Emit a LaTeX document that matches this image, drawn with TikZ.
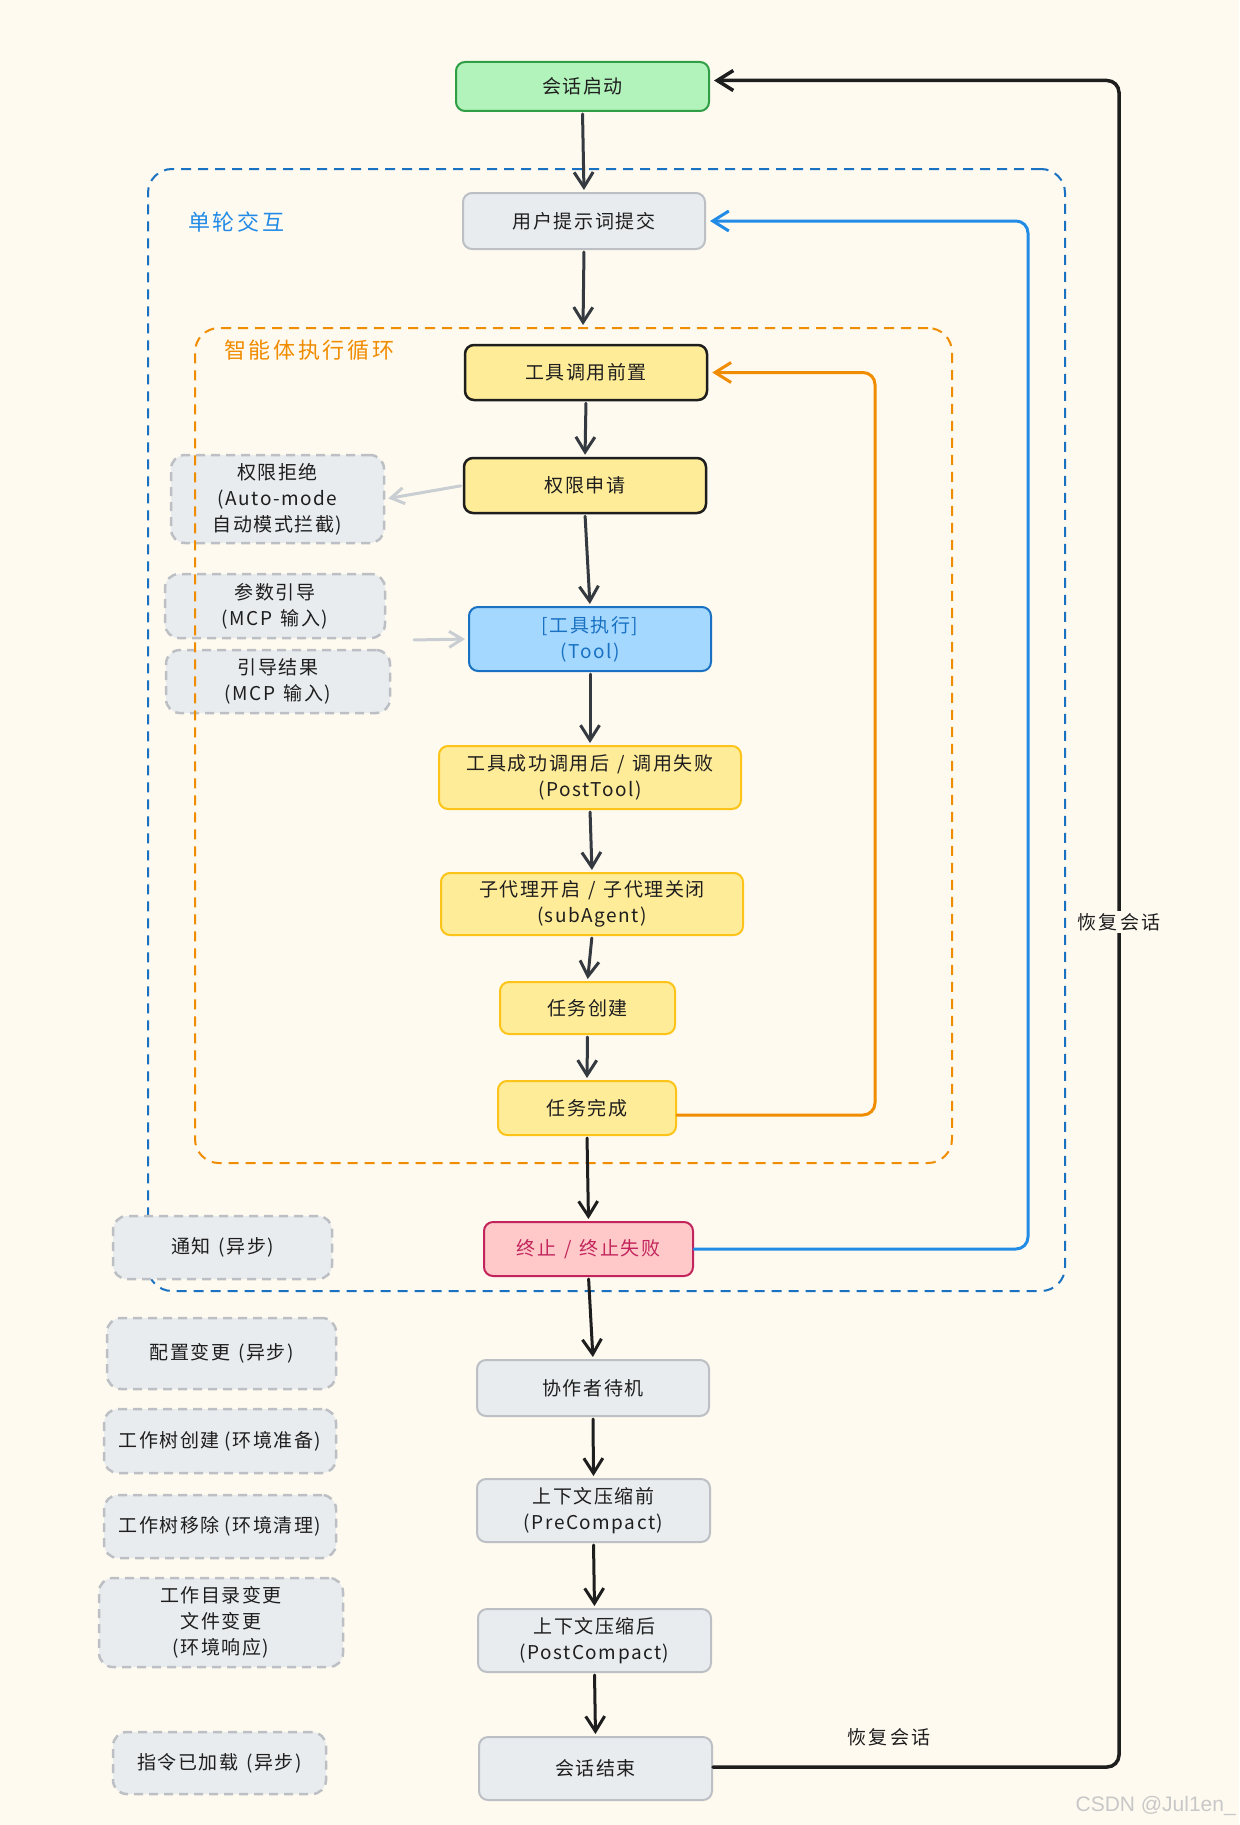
\documentclass[tikz,border=0pt]{standalone}
\usepackage{fontspec}
\setmainfont{Noto Sans CJK SC}[LetterSpace=8]
\newfontfamily\wmfont{Liberation Sans}
\usetikzlibrary{arrows.meta}
\definecolor{bg}{HTML}{FFFAF0}
\definecolor{ink}{HTML}{1E1E1E}
\definecolor{slate}{HTML}{343A40}
\definecolor{grayfill}{HTML}{E9ECEF}
\definecolor{grayline}{HTML}{BCC0C4}
\definecolor{garrow}{HTML}{C9CED3}
\definecolor{yellowfill}{HTML}{FFEC99}
\definecolor{yellowline}{HTML}{FCC419}
\definecolor{greenfill}{HTML}{B2F2BB}
\definecolor{greenline}{HTML}{2F9E44}
\definecolor{bluefill}{HTML}{A5D8FF}
\definecolor{blueline}{HTML}{1971C2}
\definecolor{bluearrow}{HTML}{228BE6}
\definecolor{redfill}{HTML}{FFC9C9}
\definecolor{redline}{HTML}{C2255C}
\definecolor{orange}{HTML}{F08C00}
\definecolor{wmgray}{HTML}{C8C8C8}
\newcommand{\gapsp}{\hspace{8pt}}
\tikzset{
  base/.style={rectangle, rounded corners=9pt, line width=2pt, text=ink, inner sep=0pt, align=center, font=\fontsize{19}{26}\selectfont},
  grayb/.style={base, draw=grayline, fill=grayfill},
  sideb/.style={base, draw=grayline, fill=grayfill, dash pattern=on 9pt off 6pt, line width=2.5pt, rounded corners=14pt},
  yellowk/.style={base, draw=ink, fill=yellowfill, line width=2.5pt},
  yellowy/.style={base, draw=yellowline, fill=yellowfill},
  greenb/.style={base, draw=greenline, fill=greenfill},
  blueb/.style={base, draw=blueline, fill=bluefill, text=blueline},
  redb/.style={base, draw=redline, fill=redfill, text=redline},
  container/.style={rectangle, inner sep=0pt, line width=2pt, dash pattern=on 10pt off 7pt, rounded corners=24pt},
  clabel/.style={font=\fontsize{22}{26}\selectfont\addfontfeature{LetterSpace=12}, inner sep=0pt, anchor=west},
  lbl/.style={font=\fontsize{19}{22}\selectfont\addfontfeature{LetterSpace=12}, text=ink, inner sep=2pt},
  darr/.style={draw=slate, line width=3pt, line cap=round, -{Straight Barb[length=15pt,width=19pt]}, shorten <=2pt, shorten >=2pt},
  karr/.style={darr, draw=ink},
  garr/.style={draw=garrow, line width=3pt, line cap=round, -{Straight Barb[length=13pt,width=16pt]}, shorten <=2pt, shorten >=3pt},
  loopl/.style={line width=3pt, line cap=round, rounded corners=12pt, -{Straight Barb[length=16pt,width=20pt]}, shorten >=4pt}
}
\begin{document}
\begin{tikzpicture}[x=1pt,y=-1pt]
\fill[bg] (0,0) rectangle (1239,1825);
\useasboundingbox (0,0) rectangle (1239,1825);

% outer container: single turn
\node[container, draw=blueline, minimum width=917pt, minimum height=1122pt] (turnbox) at (606.5,730) {};
\node[clabel, text=bluearrow] (turnlbl) at (188,222) {单轮交互};

% side boxes inside the loop region
\node[sideb, minimum width=213pt, minimum height=88pt] (deny) at (277.5,499) {权限拒绝\\(Auto-mode\\自动模式拦截)};
\node[sideb, minimum width=220pt, minimum height=64pt] (param) at (275,606) {参数引导\\(MCP\gapsp 输入)};
\node[sideb, minimum width=224pt, minimum height=63pt] (result) at (278,681.5) {引导结果\\(MCP\gapsp 输入)};

% inner container: agent loop
\node[container, draw=orange, minimum width=757pt, minimum height=835pt] (loopbox) at (573.5,745.5) {};
\node[clabel, text=orange] (looplbl) at (224,350) {智能体执行循环};

% main flow
\node[greenb, minimum width=253pt, minimum height=49pt] (start) at (582.5,86.5) {会话启动};
\node[grayb, minimum width=242pt, minimum height=56pt] (prompt) at (584,221) {用户提示词提交};
\node[yellowk, minimum width=242pt, minimum height=55pt] (pre) at (586,372.5) {工具调用前置};
\node[yellowk, minimum width=242pt, minimum height=55pt] (perm) at (585,485.5) {权限申请};
\node[blueb, minimum width=242pt, minimum height=64pt] (tool) at (590,639) {[工具执行]\\(Tool)};
\node[yellowy, minimum width=302pt, minimum height=63pt] (post) at (590,777.5) {工具成功调用后\gapsp/\gapsp 调用失败\\(PostTool)};
\node[yellowy, minimum width=302pt, minimum height=62pt] (sub) at (592,904) {子代理开启\gapsp/\gapsp 子代理关闭\\(subAgent)};
\node[yellowy, minimum width=175pt, minimum height=52pt] (tcreate) at (587.5,1008) {任务创建};
\node[yellowy, minimum width=178pt, minimum height=54pt] (tdone) at (587,1108) {任务完成};
\node[redb, minimum width=209pt, minimum height=54pt] (stop) at (588.5,1249) {终止\gapsp/\gapsp 终止失败};
\node[grayb, minimum width=232pt, minimum height=56pt] (idle) at (593,1388) {协作者待机};
\node[grayb, minimum width=233pt, minimum height=63pt] (prec) at (593.5,1510.5) {上下文压缩前\\(PreCompact)};
\node[grayb, minimum width=233pt, minimum height=63pt] (postc) at (594.5,1640.5) {上下文压缩后\\(PostCompact)};
\node[grayb, minimum width=233pt, minimum height=63pt] (end) at (595.5,1768.5) {会话结束};

% async side boxes
\node[sideb, minimum width=219pt, minimum height=63pt] (notify) at (222.5,1247.5) {通知\gapsp(异步)};
\node[sideb, minimum width=229pt, minimum height=71pt] (config) at (221.5,1353.5) {配置变更\gapsp(异步)};
\node[sideb, minimum width=232pt, minimum height=64pt] (wtc) at (220,1441) {工作树创建\hspace{5pt}(环境准备)};
\node[sideb, minimum width=232pt, minimum height=63pt] (wtr) at (220,1526.5) {工作树移除\hspace{5pt}(环境清理)};
\node[sideb, minimum width=244pt, minimum height=89pt] (cwd) at (221,1622.5) {工作目录变更\\文件变更\\(环境响应)};
\node[sideb, minimum width=213pt, minimum height=62pt] (instr) at (219.5,1763) {指令已加载\gapsp(异步)};

% vertical arrows
\draw[darr] (start.south) -- (prompt.north);
\draw[darr] (prompt.south) -- ([xshift=-1pt]prompt.south |- loopbox.north);
\draw[darr] (pre.south) -- (perm.north);
\draw[darr] (perm.south) -- (tool.north);
\draw[darr] (tool.south) -- (post.north);
\draw[darr] (post.south) -- (sub.north);
\draw[darr] (sub.south) -- (tcreate.north);
\draw[darr] (tcreate.south) -- (tdone.north);
\draw[karr] (tdone.south) -- (stop.north);
\draw[karr] (stop.south) -- (idle.north);
\draw[karr] (idle.south) -- (prec.north);
\draw[karr] (prec.south) -- (postc.north);
\draw[karr] (postc.south) -- (end.north);

% gray side arrows
\draw[garr] (perm.west) -- (deny.east);
\coordinate (gs) at (412,640);
\draw[garr] (gs) -- (tool.west);

% loops
\coordinate (ox) at (875,0);
\coordinate (td) at ([yshift=-7pt]tdone.east);
\draw[loopl, draw=orange] (td) -| (ox |- pre.east) -- (pre.east);

\coordinate (bx) at (1028,0);
\draw[loopl, draw=bluearrow] (stop.east) -| (bx |- prompt.east) -- (prompt.east);

\coordinate (rx) at (1119,0);
\coordinate (sa) at ([yshift=6pt]start.east);
\coordinate (ea) at ([yshift=1.5pt]end.east);
\draw[loopl, draw=ink, line width=3.5pt] (ea) -| (rx |- sa) -- (sa);

\node[lbl, fill=bg] (resume1) at (1119,922) {恢复会话};
\node[lbl] (resume2) at (889,1737) {恢复会话};

% watermark
\node[font=\wmfont\fontsize{21}{24}\selectfont, text=wmgray, anchor=east, inner sep=0pt] (wm) at (1236,1806) {CSDN @Jul1en\_};
\end{tikzpicture}
\end{document}
